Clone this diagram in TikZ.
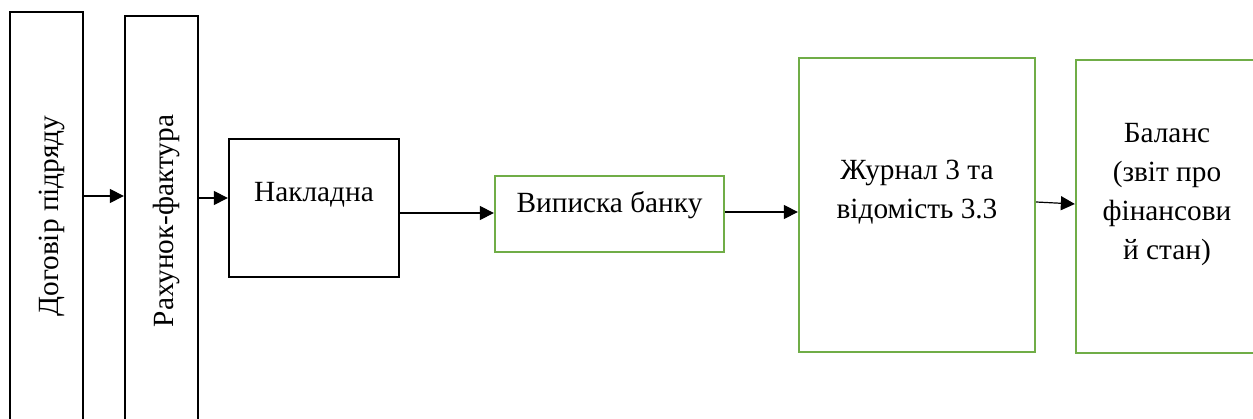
\documentclass[tikz,border=0pt]{standalone}
\usepackage{fontspec}
\setmainfont{Liberation Serif}
\usetikzlibrary{arrows.meta}
\definecolor{boxgreen}{RGB}{112,173,71}
\tikzset{
  blackbox/.style={draw=black, line width=2.3pt, inner sep=0pt, fill=white},
  greenbox/.style={draw=boxgreen, line width=2.3pt, inner sep=0pt, fill=white},
  boxtext/.style={font=\fontsize{29.3}{39}\selectfont, align=center, inner sep=0pt},
  arr/.style={draw=black, line width=1.2pt, -{Triangle[length=14pt,width=14pt]}}
}
\begin{document}
\begin{tikzpicture}[x=1pt, y=-1pt]
\useasboundingbox (0,0) rectangle (1253,419);
\clip (0,0) rectangle (1253,419);
\fill[white] (0,0) rectangle (1253,419);

\node[blackbox, minimum width=73pt, minimum height=408pt,
  label={[boxtext, xshift=5pt, rotate=90]center:Договір підряду}] (b1) at (46.5,216) {};
\node[blackbox, minimum width=73pt, minimum height=410pt,
  label={[boxtext, xshift=4.5pt, rotate=90]center:Рахунок-фактура}] (b2) at (161.5,221) {};
\node[blackbox, minimum width=170pt, minimum height=138pt,
  label={[boxtext, yshift=13pt]center:Накладна}] (b3) at (314,208) {};
\node[greenbox, minimum width=229pt, minimum height=76pt,
  label={[boxtext, yshift=9pt]center:Виписка банку}] (b4) at (609.5,214) {};
\node[greenbox, minimum width=236pt, minimum height=294pt,
  label={[boxtext, yshift=13pt]center:Журнал 3 та\\відомість 3.3}] (b5) at (917,205) {};
\node[greenbox, minimum width=182pt, minimum height=293pt,
  label={[boxtext, yshift=11.5pt]center:Баланс\\(звіт про\\фінансови\\й стан)}] (b6) at (1167,206.5) {};

\draw[arr] (b1.east |- 0,196) -- (b2.west |- 0,196);
\draw[arr] (b2.east |- 0,198) -- (b3.west |- 0,198);
\draw[arr] (b3.east |- 0,213) -- (b4.west |- 0,213);
\draw[arr] (b4.east |- 0,212) -- (b5.west |- 0,212);
\draw[arr] (b5.east |- 0,202) -- (b6.west |- 0,204);
\end{tikzpicture}
\end{document}
